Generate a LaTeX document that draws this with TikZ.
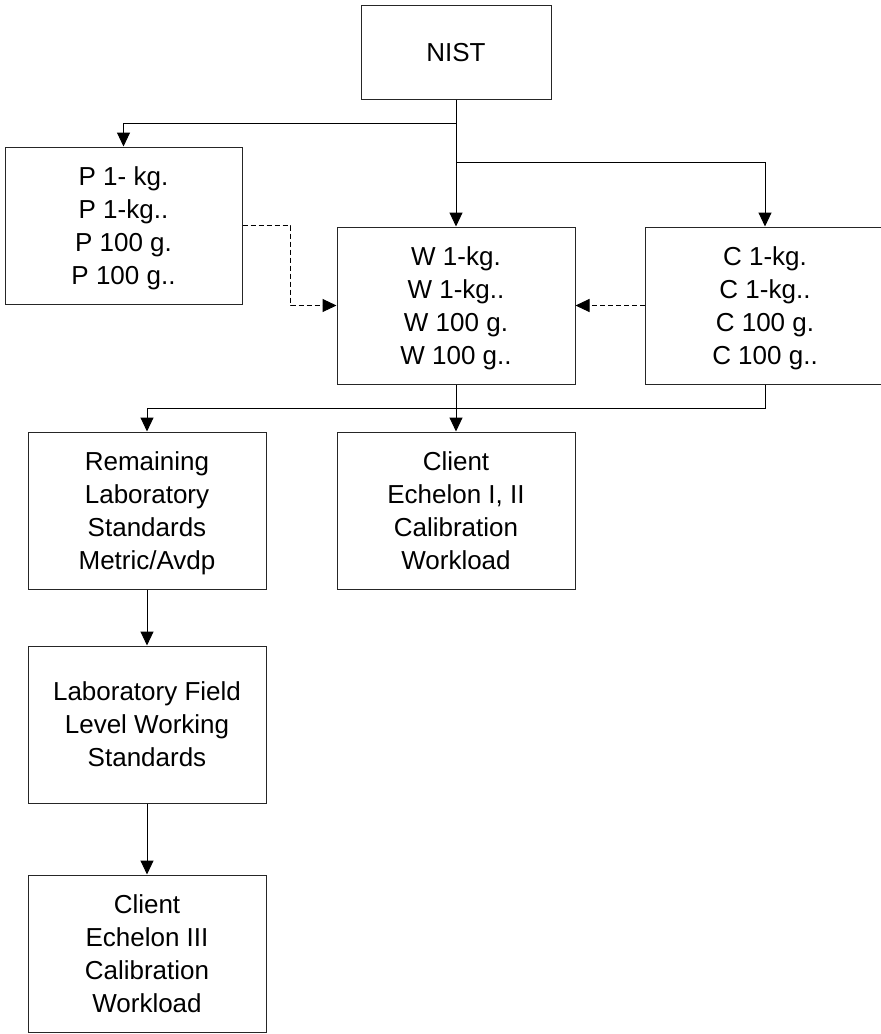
\documentclass[tikz,border=0pt]{standalone}
\usepackage{fontspec}
\setmainfont{Liberation Sans}
\usetikzlibrary{arrows.meta}
\begin{document}
\begin{tikzpicture}[x=1pt,y=-1pt,
  box/.style={draw=black!85,line width=1pt,rectangle,align=center,inner sep=0pt,
    text depth=0pt,font=\fontsize{26}{33}\selectfont},
  conn/.style={draw=black,line width=1pt,-{Triangle[length=14pt,width=13pt]}},
  dconn/.style={conn,dash pattern=on 5pt off 3pt}]
\useasboundingbox (0,0) rectangle (881,1034);
\clip (0,0) rectangle (881,1034);
\node[box,minimum width=190pt,minimum height=94pt] (nist) at (456,52) {NIST};
\node[box,minimum width=237pt,minimum height=157pt] (p) at (123.5,225.5) {P 1- kg.\\P 1-kg..\\P 100 g.\\P 100 g..};
\node[box,minimum width=238pt,minimum height=157pt] (w) at (456,305.5) {W 1-kg.\\W 1-kg..\\W 100 g.\\W 100 g..};
\node[box,minimum width=240pt,minimum height=157pt] (c) at (765,305.5) {C 1-kg.\\C 1-kg..\\C 100 g.\\C 100 g..};
\node[box,minimum width=238pt,minimum height=157pt] (rem) at (147,510.5) {Remaining\\Laboratory\\Standards\\Metric/Avdp};
\node[box,minimum width=238pt,minimum height=157pt] (cl) at (456,510.5) {Client\\Echelon I, II\\Calibration\\Workload};
\node[box,minimum width=238pt,minimum height=157pt] (lab) at (147,724.5) {Laboratory Field\\Level Working\\Standards};
\node[box,minimum width=238pt,minimum height=157pt] (cl3) at (147,953.5) {Client\\Echelon III\\Calibration\\Workload};
\coordinate (j1) at (456,123);
\coordinate (j2) at (456,162);
\draw[conn] (nist.south) -- (j1) -| (p.north);
\draw[conn] (j1) -- (w.north);
\draw[conn] (j2) -| (c.north);
\draw[dconn] (p.east) -- ++(48,0) |- (w.west);
\draw[dconn] (c.west) -- (w.east);
\draw[conn] (w.south) -- (cl.north);
\draw[conn] (c.south) -- ++(0,24) -| (rem.north);
\draw[conn] (rem.south) -- (lab.north);
\draw[conn] (lab.south) -- (cl3.north);
\end{tikzpicture}
\end{document}
